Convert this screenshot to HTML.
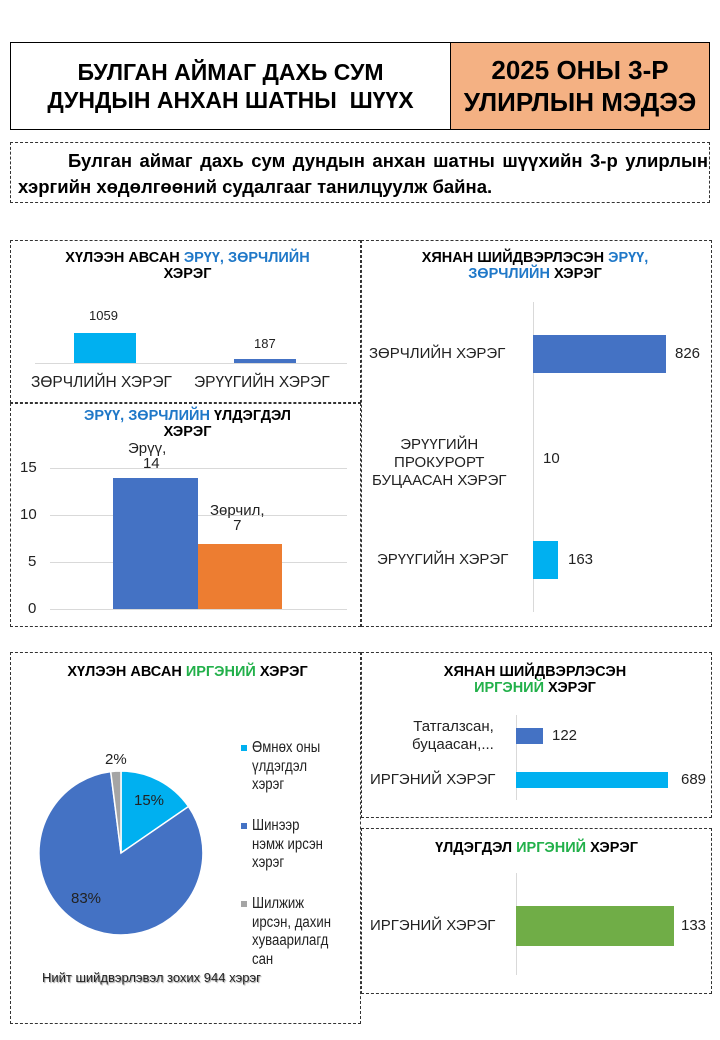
<!DOCTYPE html>
<html><head><meta charset="utf-8"><style>
body{margin:0;width:720px;height:1040px;background:#fff;position:relative;font-family:"Liberation Sans",Arial,sans-serif;overflow:hidden}
.a{position:absolute}
.d{position:absolute;border:1px dashed #333;box-sizing:border-box}
.t{position:absolute;text-align:center;font-weight:bold;font-size:14.5px;line-height:16px;color:#000}
.bl{color:#1f78c8}.gr{color:#22b04a}
.l{position:absolute;font-size:15px;color:#222;white-space:nowrap}
.lg{position:absolute;font-size:15.5px;line-height:18.5px;color:#222;white-space:nowrap;transform:scaleX(0.85);transform-origin:left}
</style></head><body>
<div class="a" style="left:10px;top:42px;width:441px;height:88px;border:1px solid #000;box-sizing:border-box"></div>
<div class="a" style="left:450px;top:42px;width:260px;height:88px;border:1px solid #000;background:#F4B183;box-sizing:border-box"></div>
<div class="a" style="left:10px;top:58px;width:441px;text-align:center;font-weight:bold;font-size:23px;line-height:28px">БУЛГАН АЙМАГ ДАХЬ СУМ<br>ДУНДЫН АНХАН ШАТНЫ&nbsp; ШҮҮХ</div>
<div class="a" style="left:450px;top:54px;width:260px;text-align:center;font-weight:bold;font-size:26px;line-height:32px">2025 ОНЫ 3-Р<br>УЛИРЛЫН МЭДЭЭ</div>
<div class="d" style="left:10px;top:142px;width:700px;height:61px"></div>
<div class="a" style="left:18px;top:148px;width:690px;font-weight:bold;font-size:18.5px;line-height:26px;text-indent:50px;text-align:justify">Булган аймаг дахь сум дундын анхан шатны шүүхийн 3-р улирлын хэргийн хөдөлгөөний судалгааг танилцуулж байна.</div>

<!-- Panel A -->
<div class="d" style="left:10px;top:240px;width:351px;height:163px"></div>
<div class="t" style="left:10px;top:250px;width:355px">ХҮЛЭЭН АВСАН <span class="bl">ЭРҮҮ, ЗӨРЧЛИЙН</span><br>ХЭРЭГ</div>
<div class="a" style="left:35px;top:363px;width:312px;height:1px;background:#d9d9d9"></div>
<div class="a" style="left:74px;top:333px;width:62px;height:30px;background:#00B0F0"></div>
<div class="a" style="left:234px;top:359px;width:62px;height:4px;background:#4472C4"></div>
<div class="l" style="left:89px;top:308px;font-size:13px">1059</div>
<div class="l" style="left:254px;top:336px;font-size:13px">187</div>
<div class="l" style="left:31px;top:374px;font-size:15.5px">ЗӨРЧЛИЙН ХЭРЭГ</div>
<div class="l" style="left:194px;top:374px;font-size:15.5px">ЭРҮҮГИЙН ХЭРЭГ</div>

<!-- Panel B -->
<div class="d" style="left:10px;top:403px;width:351px;height:224px"></div>
<div class="t" style="left:10px;top:408px;width:355px"><span class="bl">ЭРҮҮ, ЗӨРЧЛИЙН</span> ҮЛДЭГДЭЛ<br>ХЭРЭГ</div>
<div class="a" style="left:50px;top:468px;width:297px;height:1px;background:#d9d9d9"></div>
<div class="a" style="left:50px;top:515px;width:297px;height:1px;background:#d9d9d9"></div>
<div class="a" style="left:50px;top:562px;width:297px;height:1px;background:#d9d9d9"></div>
<div class="a" style="left:50px;top:609px;width:297px;height:1px;background:#d9d9d9"></div>
<div class="l" style="left:20px;top:459px">15</div>
<div class="l" style="left:20px;top:506px">10</div>
<div class="l" style="left:28px;top:553px">5</div>
<div class="l" style="left:28px;top:600px">0</div>
<div class="a" style="left:113px;top:478px;width:85px;height:131px;background:#4472C4"></div>
<div class="a" style="left:198px;top:544px;width:84px;height:65px;background:#ED7D31"></div>
<div class="l" style="left:128px;top:441px;text-align:center;line-height:15px">Эрүү,<br>&nbsp;&nbsp;14</div>
<div class="l" style="left:210px;top:503px;text-align:center;line-height:15px">Зөрчил,<br>7</div>

<!-- Panel C -->
<div class="d" style="left:361px;top:240px;width:351px;height:387px"></div>
<div class="t" style="left:380px;top:250px;width:310px">ХЯНАН ШИЙДВЭРЛЭСЭН <span class="bl">ЭРҮҮ,<br>ЗӨРЧЛИЙН</span> ХЭРЭГ</div>
<div class="a" style="left:533px;top:302px;width:1px;height:310px;background:#d9d9d9"></div>
<div class="a" style="left:533px;top:335px;width:133px;height:38px;background:#4472C4"></div>
<div class="a" style="left:533px;top:541px;width:25px;height:38px;background:#00B0F0"></div>
<div class="l" style="left:369px;top:345px">ЗӨРЧЛИЙН ХЭРЭГ</div>
<div class="l" style="left:675px;top:345px">826</div>
<div class="l" style="left:372px;top:436px;text-align:center;line-height:18px">ЭРҮҮГИЙН<br>ПРОКУРОРТ<br>БУЦААСАН ХЭРЭГ</div>
<div class="l" style="left:543px;top:450px">10</div>
<div class="l" style="left:377px;top:551px">ЭРҮҮГИЙН ХЭРЭГ</div>
<div class="l" style="left:568px;top:551px">163</div>

<!-- Pie panel -->
<div class="d" style="left:10px;top:652px;width:351px;height:372px"></div>
<div class="t" style="left:10px;top:664px;width:355px">ХҮЛЭЭН АВСАН <span class="gr">ИРГЭНИЙ</span> ХЭРЭГ</div>
<svg class="a" style="left:0;top:0" width="720" height="1040">
<path d="M121,853 L121,771 A82,82 0 0 1 188.5,806.5 Z" fill="#00B0F0" stroke="#fff" stroke-width="1.5"/>
<path d="M121,853 L188.5,806.5 A82,82 0 1 1 110.7,771.6 Z" fill="#4472C4" stroke="#fff" stroke-width="1.5"/>
<path d="M121,853 L110.7,771.6 A82,82 0 0 1 121,771 Z" fill="#A5A5A5" stroke="#fff" stroke-width="1.5"/>
<rect x="241" y="745" width="6" height="6" fill="#00B0F0"/>
<rect x="241" y="823" width="6" height="6" fill="#4472C4"/>
<rect x="241" y="901" width="6" height="6" fill="#A5A5A5"/>
</svg>
<div class="l" style="left:105px;top:751px">2%</div>
<div class="l" style="left:134px;top:792px">15%</div>
<div class="l" style="left:71px;top:890px">83%</div>
<div class="lg" style="left:252px;top:739px">Өмнөх оны<br>үлдэгдэл<br>хэрэг</div>
<div class="lg" style="left:252px;top:817px">Шинээр<br>нэмж ирсэн<br>хэрэг</div>
<div class="lg" style="left:252px;top:895px">Шилжиж<br>ирсэн, дахин<br>хуваарилагд<br>сан</div>
<div class="l" style="left:42px;top:970px;font-size:13px;text-shadow:1px 1px 1px #999">Нийт шийдвэрлэвэл зохих 944 хэрэг</div>

<!-- Panel D -->
<div class="d" style="left:361px;top:652px;width:351px;height:166px"></div>
<div class="t" style="left:380px;top:664px;width:310px">ХЯНАН ШИЙДВЭРЛЭСЭН<br><span class="gr">ИРГЭНИЙ</span> ХЭРЭГ</div>
<div class="a" style="left:516px;top:715px;width:1px;height:85px;background:#d9d9d9"></div>
<div class="a" style="left:516px;top:728px;width:27px;height:16px;background:#4472C4"></div>
<div class="a" style="left:516px;top:772px;width:152px;height:16px;background:#00B0F0"></div>
<div class="l" style="left:412px;top:718px;text-align:right;line-height:18px">Татгалзсан,<br>буцаасан,...</div>
<div class="l" style="left:552px;top:727px">122</div>
<div class="l" style="left:370px;top:771px">ИРГЭНИЙ ХЭРЭГ</div>
<div class="l" style="left:681px;top:771px">689</div>

<!-- Panel E -->
<div class="d" style="left:361px;top:828px;width:351px;height:166px"></div>
<div class="t" style="left:361px;top:840px;width:351px">ҮЛДЭГДЭЛ <span class="gr">ИРГЭНИЙ</span> ХЭРЭГ</div>
<div class="a" style="left:516px;top:873px;width:1px;height:102px;background:#d9d9d9"></div>
<div class="a" style="left:516px;top:906px;width:158px;height:40px;background:#70AD47"></div>
<div class="l" style="left:370px;top:917px">ИРГЭНИЙ ХЭРЭГ</div>
<div class="l" style="left:681px;top:917px">133</div>
</body></html>
